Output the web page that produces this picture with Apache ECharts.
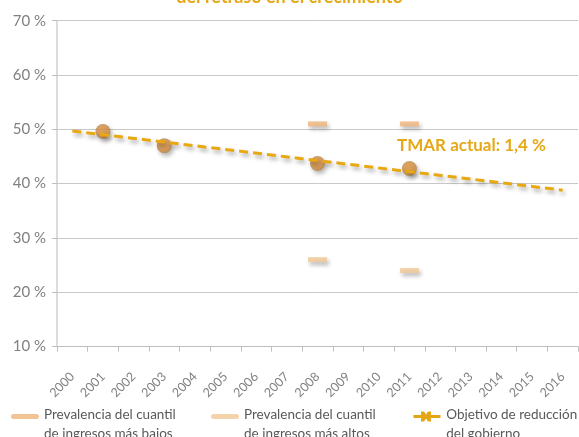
<!DOCTYPE html>
<html>
<head>
<meta charset="utf-8">
<script src="https://cdn.jsdelivr.net/npm/echarts@6/dist/echarts.min.js"></script>
<style>html,body{margin:0;padding:0;background:#fff}#c{width:579px;height:437px}</style>
</head>
<body>
<div id="c"></div>
<script>
const years = ['2000','2001','2002','2003','2004','2005','2006','2007','2008','2009','2010','2011','2012','2013','2014','2015','2016'];
const yTicks = [10, 20, 30, 40, 50, 60, 70];
const lowQuintile = [['2008', 51], ['2011', 51]];
const highQuintile = [['2008', 26], ['2011', 24]];
const national = [['2001', 49.6], ['2003', 47.0], ['2008', 43.7], ['2011', 42.8]];
const trend = [['2000', 49.7], ['2016', 38.8]];
const govTarget = [];
const names = ['Prevalencia del cuantil\nde ingresos más bajos', 'Prevalencia del cuantil\nde ingresos más altos', 'Objetivo de reducción\ndel gobierno'];

const FONT = 'Lato';
const GOLD = '#E6A817';
const shadow = {shadowColor: 'rgba(0,0,0,0.35)', shadowBlur: 4, shadowOffsetX: 2, shadowOffsetY: 3};
const legendText = {color: '#595959', fontFamily: FONT, fontSize: 13.5, lineHeight: 19};
// legend icons: line drawn at the top so it lines up with the first text line
const lineIcon = 'path://M2.5,0 L25.5,0 A2.5,2.5 0 0 1 25.5,5 L2.5,5 A2.5,2.5 0 0 1 2.5,0 Z M0,21 L0.01,21 L0,20.99 Z';
const xIcon = 'path://M1.5,3.5 L28.5,3.5 L28.5,6.5 L1.5,6.5 Z M9,0 L12,0 L14,3 L16,0 L19,0 L19,3 L16,5 L19,7 L19,10 L16,10 L14,7 L12,10 L9,10 L9,7 L12,5 L9,3 Z M0,26 L0.01,26 L0,25.99 Z';

const chart = echarts.init(document.getElementById('c'), null, {renderer: 'canvas'});
chart.setOption({
  animation: false,
  grid: {left: 57, right: 1, top: 20.7, bottom: 90.4, containLabel: false},
  graphic: [
    {type: 'text', left: 'center', top: -12, style: {text: 'del retraso en el crecimiento', fill: GOLD, font: 'bold 18px Lato'}},
    {type: 'text', left: 397, top: 137, style: {text: 'TMAR actual: 1,4 %', fill: GOLD, font: 'bold 17px Lato'}}
  ],
  legend: [
    {data: [{name: names[0], icon: lineIcon}], left: 11, top: 405.5, padding: 0, itemWidth: 28, itemHeight: 21, textStyle: legendText, selectedMode: false},
    {data: [{name: names[1], icon: lineIcon}], left: 211, top: 405.5, padding: 0, itemWidth: 28, itemHeight: 21, textStyle: legendText, selectedMode: false},
    {data: [{name: names[2], icon: xIcon}], left: 412, top: 405.5, padding: 0, itemWidth: 30, itemHeight: 26, textStyle: legendText, selectedMode: false}
  ],
  xAxis: {
    type: 'category', data: years, boundaryGap: true,
    axisLine: {lineStyle: {color: '#BFBFBF', width: 1}},
    axisTick: {show: true, length: 5, lineStyle: {color: '#BFBFBF'}},
    axisLabel: {rotate: 45, margin: 28, color: '#808080', fontFamily: FONT, fontSize: 12.5}
  },
  yAxis: {
    type: 'value', min: yTicks[0], max: yTicks[yTicks.length - 1], interval: 10,
    axisLine: {show: true, lineStyle: {color: '#D0D0D0', width: 1.5}},
    axisTick: {show: true, length: 5, lineStyle: {color: '#BFBFBF'}},
    axisLabel: {formatter: '{value} %', margin: 11, color: '#808080', fontFamily: FONT, fontSize: 15},
    splitLine: {lineStyle: {color: '#C8C8C8', width: 1}}
  },
  series: [
    {name: names[0], type: 'scatter', data: lowQuintile, symbol: 'rect', symbolSize: [19, 5], itemStyle: Object.assign({color: '#EDB47A'}, shadow), z: 3},
    {name: names[1], type: 'scatter', data: highQuintile, symbol: 'rect', symbolSize: [19, 5], itemStyle: Object.assign({color: '#F1C896'}, shadow), z: 3},
    {name: 'Prevalencia nacional', type: 'scatter', data: national, symbol: 'circle', symbolSize: 15,
      itemStyle: Object.assign({color: {type: 'radial', x: 0.5, y: 0.5, r: 0.5, colorStops: [{offset: 0, color: '#E59A45'}, {offset: 0.7, color: '#D68C3C'}, {offset: 1, color: '#B8864E'}]}}, shadow), z: 3},
    {name: 'Tendencia', type: 'line', data: trend, symbol: 'none', lineStyle: Object.assign({color: '#E8A812', width: 3, type: [9, 5]}, shadow), z: 4},
    {name: names[2], type: 'line', data: govTarget, symbol: 'none',
      itemStyle: {color: '#E3A514'}, lineStyle: {color: GOLD, width: 4}}
  ]
});
</script>
</body>
</html>
